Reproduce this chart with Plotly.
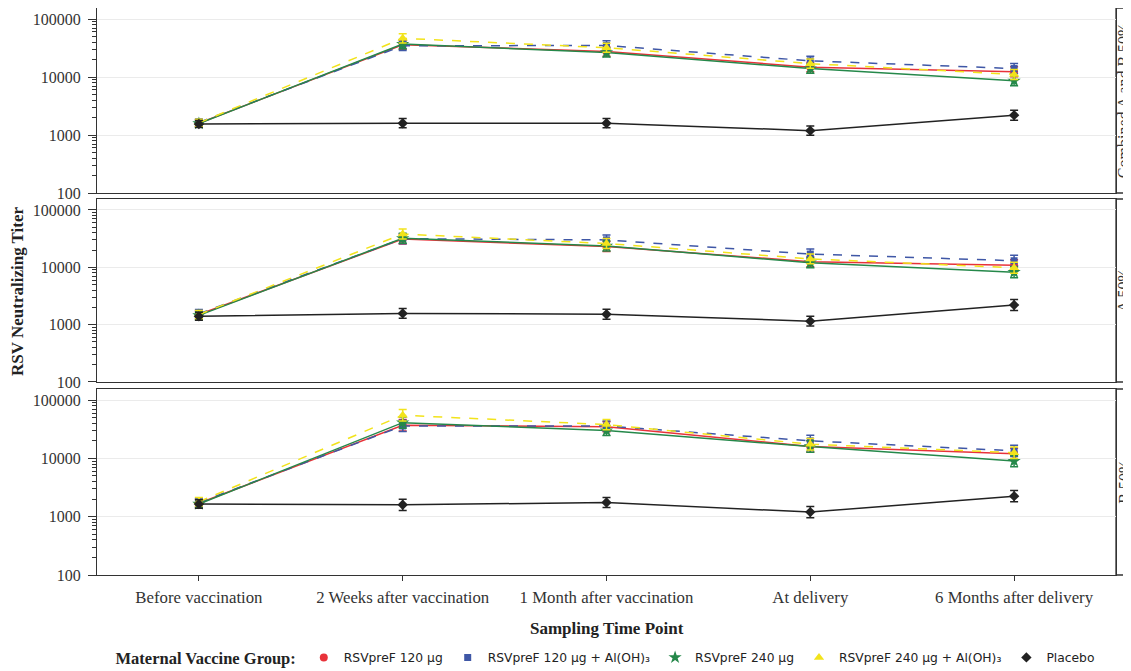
import plotly.graph_objects as go
from plotly.subplots import make_subplots

times = ["Before vaccination", "2 Weeks after vaccination", "1 Month after vaccination",
         "At delivery", "6 Months after delivery"]

panels = ["Combined A and B 50%", "A 50%", "B 50%"]

groups = ["RSVpreF 120 μg", "RSVpreF 120 μg + Al(OH)₃", "RSVpreF 240 μg",
          "RSVpreF 240 μg + Al(OH)₃", "Placebo"]

# Geometric mean titers
comb_120 = [1600, 36000, 27500, 14800, 12300]
comb_120al = [1650, 34500, 35000, 19000, 14000]
comb_240 = [1580, 37000, 26500, 14000, 8600]
comb_240al = [1620, 46500, 32000, 17000, 11100]
comb_pbo = [1550, 1600, 1600, 1190, 2200]

a_120 = [1500, 31000, 23000, 12500, 10800]
a_120al = [1550, 31500, 30000, 17000, 13000]
a_240 = [1450, 32000, 23500, 12000, 8200]
a_240al = [1500, 38000, 26000, 14000, 9800]
a_pbo = [1400, 1570, 1520, 1150, 2200]

b_120 = [1700, 37000, 35000, 16000, 12000]
b_120al = [1750, 36000, 36000, 20000, 13500]
b_240 = [1650, 41000, 30000, 16000, 9000]
b_240al = [1800, 55000, 38000, 17500, 12500]
b_pbo = [1650, 1600, 1750, 1200, 2250]

# 95% CI fold-range (upper = gmt*fold, lower = gmt/fold)
comb_fold = [1.15, 1.2, 1.2, 1.2, 1.22]
a_fold = [1.18, 1.22, 1.22, 1.22, 1.25]
b_fold = [1.18, 1.25, 1.22, 1.25, 1.25]

panel_data = [
    ([comb_120, comb_120al, comb_240, comb_240al, comb_pbo], comb_fold),
    ([a_120, a_120al, a_240, a_240al, a_pbo], a_fold),
    ([b_120, b_120al, b_240, b_240al, b_pbo], b_fold),
]

colors = ["#E8323A", "#3F57A6", "#25884A", "#F2E31B", "#222222"]
symbols = ["circle", "square", "star", "triangle-up", "diamond"]
msizes = [8, 7, 10, 9, 8]
dashes = ["solid", "dash", "solid", "dash", "solid"]

fig = make_subplots(rows=3, cols=1, shared_xaxes=True, vertical_spacing=0.01)

for p, (series, fold) in enumerate(panel_data):
    for g, vals in enumerate(series):
        up = [v * f - v for v, f in zip(vals, fold)]
        dn = [v - v / f for v, f in zip(vals, fold)]
        fig.add_trace(go.Scatter(
            x=times, y=vals, mode="lines+markers", name=groups[g],
            line=dict(color=colors[g], width=1.5, dash=dashes[g]),
            marker=dict(symbol=symbols[g], size=msizes[g], color=colors[g]),
            error_y=dict(type="data", symmetric=False, array=up, arrayminus=dn,
                         color=colors[g], thickness=1.5, width=4),
            showlegend=False,
        ), row=p + 1, col=1)

for g in range(5):
    fig.add_trace(go.Scatter(
        x=[None], y=[None], mode="markers", name=groups[g],
        marker=dict(symbol=symbols[g], size=msizes[g], color=colors[g]),
        showlegend=True,
    ), row=3, col=1)

domains = [[0.6737, 1.0], [0.3404, 0.6631], [0.0, 0.328]]
serif = "Liberation Serif"
axcol = "#333333"

minor_vals = [m * d for d in [100, 1000, 10000] for m in range(2, 10)]

for i in range(3):
    yname = "yaxis" if i == 0 else f"yaxis{i+1}"
    xname = "xaxis" if i == 0 else f"xaxis{i+1}"
    fig.layout[yname].update(
        domain=domains[i], type="log", range=[2, 5.19],
        tickvals=[100, 1000, 10000, 100000],
        ticktext=["100", "1000", "10000", "100000"],
        ticks="outside", ticklen=8, tickcolor=axcol, tickwidth=1,
        ticklabelstandoff=4,
        showline=True, linecolor=axcol, linewidth=1.3, mirror=True,
        showgrid=True, gridcolor="#EBEBEB", gridwidth=1, zeroline=False,
        tickfont=dict(family=serif, size=16, color=axcol),
        minor=dict(tickmode="array", tickvals=minor_vals, ticks="outside",
                   ticklen=4, tickcolor=axcol, showgrid=False),
    )
    fig.layout[xname].update(
        type="category", categoryorder="array", categoryarray=times,
        range=[-0.5, 4.5], showline=True, linecolor=axcol, linewidth=1.3,
        mirror=True, showgrid=False, zeroline=False,
        ticks="outside" if i == 2 else "", ticklen=5, tickcolor=axcol,
        ticklabelstandoff=2,
        showticklabels=(i == 2),
        tickfont=dict(family=serif, size=16.8, color=axcol),
    )

shapes = []
annotations = []
for i, dmn in enumerate(domains):
    shapes.append(dict(type="rect", xref="paper", yref="paper", x0=1.0, x1=1.06,
                       y0=dmn[0], y1=dmn[1], line=dict(color=axcol, width=1.3),
                       fillcolor="white", layer="below"))
    annotations.append(dict(text=panels[i], xref="paper", yref="paper",
                            x=1.0075, y=(dmn[0] + dmn[1]) / 2, showarrow=False,
                            textangle=-90, xanchor="center", yanchor="middle",
                            font=dict(family=serif, size=16, color=axcol)))

annotations.append(dict(text="<b>Sampling Time Point</b>", xref="paper", yref="paper",
                        x=0.5, y=-0.0935, showarrow=False, xanchor="center", yanchor="middle",
                        font=dict(family=serif, size=17, color="#222222")))
annotations.append(dict(text="<b>RSV Neutralizing Titer</b>", xref="paper", yref="paper",
                        x=-0.0775, y=0.501, showarrow=False, textangle=-90,
                        xanchor="center", yanchor="middle",
                        font=dict(family=serif, size=17, color="#222222")))

# The page body adds an 8px offset, so margins are shifted by 8px
fig.update_layout(
    width=1131, height=671,
    margin=dict(l=89, r=23, t=0, b=104, autoexpand=False),
    paper_bgcolor="white", plot_bgcolor="white",
    shapes=shapes, annotations=annotations,
    legend=dict(orientation="h", x=0.5, xanchor="center", y=-0.148, yanchor="middle",
                title=dict(text="<b>Maternal Vaccine Group:</b>",
                           font=dict(family=serif, size=16.5, color="#222222")),
                font=dict(family="DejaVu Sans", size=12.3, color="#222222"),
                itemwidth=30, tracegroupgap=0),
)

fig.write_html("out.html")
